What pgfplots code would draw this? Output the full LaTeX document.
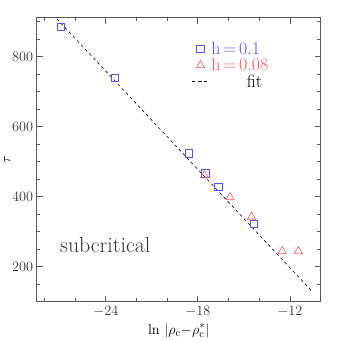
\documentclass[border=0pt]{standalone}
\usepackage{pgfplots}
\pgfplotsset{compat=1.18}
\definecolor{myblue}{RGB}{85,85,250}
\definecolor{myred}{RGB}{252,85,90}
\begin{document}
\begin{tikzpicture}
\begin{axis}[
  scale only axis, width=286pt, height=286pt,
  xmin=-28.5, xmax=-10, ymin=100, ymax=910,
  xtick={-24,-18,-12}, minor xtick={-28,-26,-22,-20,-16,-14,-10},
  ytick={200,400,600,800}, minor ytick={100,150,250,300,350,450,500,550,650,700,750,850,900},
  tick align=inside, major tick length=6pt, minor tick length=3.5pt,
  axis line style={gray!70!black, line width=0.8pt},
  every tick/.style={gray!70!black, line width=0.7pt},
  tick label style={font=\fontsize{14}{16}\selectfont, text=black!80},
  xticklabel style={yshift=-1pt},
  xlabel={\fontsize{15}{17}\selectfont $\ln\,|\rho_{\rm c}{-}\rho_{\rm c}^{*}|$},
  ylabel={\fontsize{14}{16}\selectfont $\tau$},
  xlabel style={yshift=0pt},
  ylabel style={yshift=-5pt},
  legend style={draw=none, fill=none, at={(0.535,0.93)}, anchor=north west, font=\fontsize{18}{20}\selectfont, row sep=-1.5pt},
  legend cell align=left,
  legend image post style={line width=0.6pt},
]
\addplot[black, dash pattern=on 3pt off 3pt, line width=0.6pt, forget plot] coordinates {(-27.2,907.6) (-10.52,128)};
\addplot[only marks, mark=square, mark size=3.8pt, myblue, line width=0.6pt] coordinates {
(-26.92,884) (-23.42,738.5) (-18.6,524) (-17.5,467) (-16.65,428) (-14.35,322)};
\addlegendentry{\textcolor{myblue}{h\,=\,0.1}}
\addplot[only marks, mark=triangle, mark size=4.8pt, myred, line width=0.6pt] coordinates {
(-17.57,460) (-15.9,398) (-14.5,342) (-12.5,244) (-11.45,244)};
\addlegendentry{\textcolor{myred}{h\,=\,0.08}}
\addlegendimage{black, dash pattern=on 3pt off 3pt, line width=0.6pt}
\addlegendentry{\qquad fit}
\node[anchor=west, font=\fontsize{22}{24}\selectfont, text=black!80] at (axis cs:-27.2,262) {subcritical};
\end{axis}
\path[use as bounding box] ([shift={(-37pt,-37pt)}]current axis.south west) rectangle ([shift={(18pt,18pt)}]current axis.north east);
\end{tikzpicture}
\end{document}
